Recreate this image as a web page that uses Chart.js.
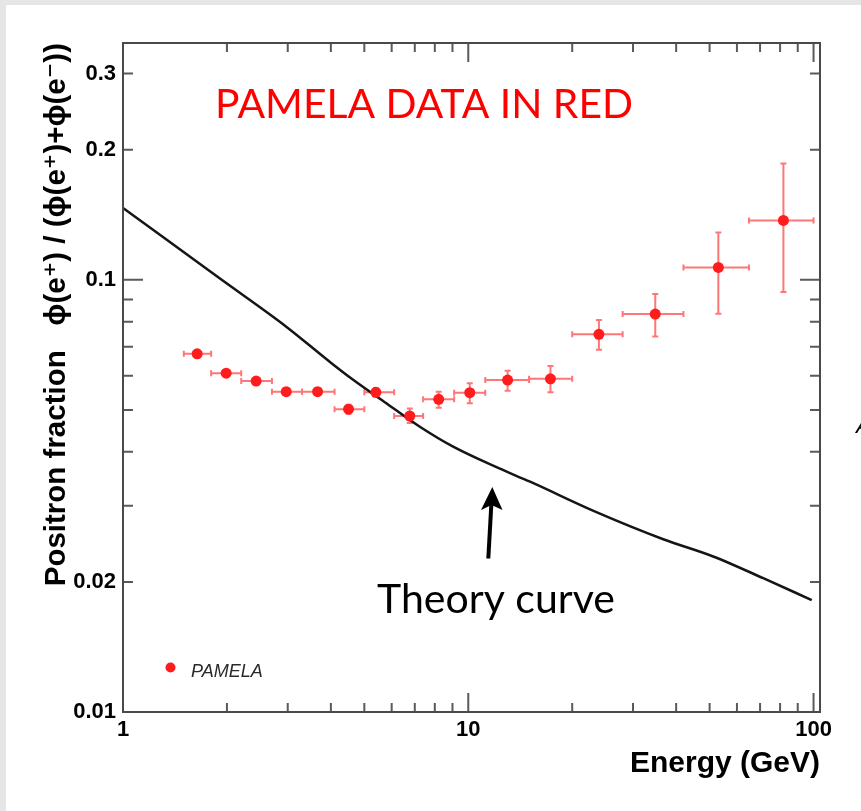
<!DOCTYPE html>
<html>
<head>
<meta charset="utf-8">
<script src="https://cdn.jsdelivr.net/npm/chart.js@4.4.1/dist/chart.umd.min.js"></script>
<style>
html,body{margin:0;padding:0;background:#fff;overflow:hidden;}
canvas{display:block;}
</style>
</head>
<body>
<canvas id="c" width="861" height="811"></canvas>
<script>
// ---------------- DATA ----------------
// PAMELA positron fraction
const energy      = [1.64, 1.99, 2.43, 2.97, 3.66, 4.50, 5.40, 6.77, 8.21, 10.1, 13.0, 17.3, 23.9, 34.8, 53.0, 81.8];
const energyLow   = [1.5, 1.8, 2.2, 2.7, 3.3, 4.1, 5.0, 6.1, 7.4, 9.1, 11.2, 15, 20, 28, 42, 65];
const energyHigh  = [1.8, 2.2, 2.7, 3.3, 4.1, 5.0, 6.1, 7.4, 9.1, 11.2, 15, 20, 28, 42, 65, 100];
const fraction    = [0.0674, 0.0608, 0.0583, 0.0551, 0.0551, 0.0502, 0.0549, 0.0484, 0.0529, 0.0548, 0.0586, 0.0590, 0.0748, 0.0833, 0.1068, 0.1372];
const fractionErrUp   = [0.0010, 0.0010, 0.0010, 0.0010, 0.0010, 0.0012, 0.0012, 0.0020, 0.0022, 0.0028, 0.0030, 0.0042, 0.0059, 0.0094, 0.0219, 0.0485];
const fractionErrDown = [0.0010, 0.0010, 0.0010, 0.0010, 0.0010, 0.0012, 0.0012, 0.0018, 0.0023, 0.0030, 0.0032, 0.0041, 0.0059, 0.0094, 0.0234, 0.0435];

// Theory curve
const theoryEnergy   = [1, 1.9, 2.97, 4.0, 4.64, 5.79, 7.24, 9.04, 12.3, 15.1, 23.5, 36.7, 51.2, 71.5, 98.8];
const theoryFraction = [0.1466, 0.1009, 0.0779, 0.0643, 0.0587, 0.0518, 0.0457, 0.0411, 0.0366, 0.0341, 0.0290, 0.0251, 0.0229, 0.0204, 0.01815];

// Axis ticks and labels
const xTickValues = [1,2,3,4,5,6,7,8,9,10,20,30,40,50,60,70,80,90,100];
const xTickLabelValues = [1, 10, 100];
const xTickLabels = ['1', '10', '100'];
const yTickValues = [0.01,0.02,0.03,0.04,0.05,0.06,0.07,0.08,0.09,0.1,0.2,0.3];
const yTickLabelValues = [0.01, 0.02, 0.1, 0.2, 0.3];
const yTickLabels = ['0.01', '0.02', '0.1', '0.2', '0.3'];
const xRange = [1, 104.4];
const yRange = [0.01, 0.353];

const xTitle = 'Energy (GeV)';
const yTitle = 'Positron fraction   \u03D5(e\u207A) / (\u03D5(e\u207A)+\u03D5(e\u207B))';
const legendLabel = 'PAMELA';
const headline = 'PAMELA DATA IN RED';
const curveNote = 'Theory curve';

// ---------------- STYLE ----------------
const SANS = "'Liberation Sans', Arial, 'DejaVu Sans', sans-serif";
const HUMANIST = "Lato, 'Open Sans', sans-serif";
const frameColor = '#4a4a4a';
const tickColor = '#5a5a5a';
const markerColor = '#ff1c1c';
const errColor = '#ff7676';

function isMajor(v){ const l = Math.log10(v); return Math.abs(l - Math.round(l)) < 1e-9; }
function labelFor(v, vals, labs){
  for (let i = 0; i < vals.length; i++) if (Math.abs(v - vals[i]) / vals[i] < 1e-6) return labs[i];
  return '';
}

const backgroundPlugin = {
  id: 'bg',
  beforeDraw(chart){
    const ctx = chart.ctx;
    ctx.save();
    ctx.fillStyle = '#e6e6e6';
    ctx.fillRect(0, 0, chart.width, chart.height);
    ctx.fillStyle = '#ffffff';
    ctx.fillRect(6, 5, chart.width - 6, chart.height - 5);
    // fragment of slide text at the right edge
    ctx.fillStyle = '#000';
    ctx.font = "italic 22px " + SANS;
    ctx.textBaseline = 'alphabetic';
    ctx.fillText('A', 856, 433);
    ctx.restore();
  }
};

const errorBarPlugin = {
  id: 'errbars',
  beforeDatasetsDraw(chart){
    const ctx = chart.ctx, xs = chart.scales.x, ys = chart.scales.y;
    ctx.save();
    ctx.strokeStyle = errColor;
    ctx.lineWidth = 2;
    const cap = 3;
    for (let i = 0; i < energy.length; i++){
      const px = xs.getPixelForValue(energy[i]);
      const py = ys.getPixelForValue(fraction[i]);
      const xl = xs.getPixelForValue(energyLow[i]);
      const xh = xs.getPixelForValue(energyHigh[i]);
      const yh = ys.getPixelForValue(fraction[i] + fractionErrUp[i]);
      const yl = ys.getPixelForValue(fraction[i] - fractionErrDown[i]);
      ctx.beginPath();
      ctx.moveTo(xl, py); ctx.lineTo(xh, py);
      ctx.moveTo(xl, py - cap); ctx.lineTo(xl, py + cap);
      ctx.moveTo(xh, py - cap); ctx.lineTo(xh, py + cap);
      ctx.moveTo(px, yh); ctx.lineTo(px, yl);
      ctx.moveTo(px - cap, yh); ctx.lineTo(px + cap, yh);
      ctx.moveTo(px - cap, yl); ctx.lineTo(px + cap, yl);
      ctx.stroke();
    }
    ctx.restore();
  }
};

function fitText(ctx, text, font, weight, x1, x2, baseline, color){
  let size = 40;
  ctx.font = weight + ' ' + size + 'px ' + font;
  const w = ctx.measureText(text).width;
  size = size * (x2 - x1) / w;
  ctx.font = weight + ' ' + size.toFixed(2) + 'px ' + font;
  ctx.fillStyle = color;
  ctx.textAlign = 'left';
  ctx.textBaseline = 'alphabetic';
  ctx.fillText(text, x1, baseline);
}

const framePlugin = {
  id: 'frame',
  afterDraw(chart){
    const ctx = chart.ctx, a = chart.chartArea, xs = chart.scales.x, ys = chart.scales.y;
    ctx.save();
    // ticks (inside frame, ROOT style)
    ctx.strokeStyle = tickColor;
    ctx.lineWidth = 2;
    ctx.beginPath();
    yTickValues.forEach(v => {
      if (v <= ys.min || v >= ys.max) return;
      const p = ys.getPixelForValue(v);
      const len = isMajor(v) ? 20 : 10;
      ctx.moveTo(a.left, p); ctx.lineTo(a.left + len, p);
      ctx.moveTo(a.right, p); ctx.lineTo(a.right - len, p);
    });
    xTickValues.forEach(v => {
      if (v <= xs.min || v >= xs.max) return;
      const p = xs.getPixelForValue(v);
      const len = isMajor(v) ? 19 : 9;
      ctx.moveTo(p, a.bottom); ctx.lineTo(p, a.bottom - len);
      ctx.moveTo(p, a.top); ctx.lineTo(p, a.top + len);
    });
    ctx.stroke();
    // frame
    ctx.strokeStyle = frameColor;
    ctx.lineWidth = 2;
    ctx.strokeRect(a.left, a.top, a.right - a.left, a.bottom - a.top);

    // legend
    ctx.fillStyle = markerColor;
    ctx.beginPath();
    ctx.arc(a.left + 47.5, a.bottom - 44.5, 5, 0, Math.PI * 2);
    ctx.fill();
    ctx.fillStyle = '#2a2a2a';
    ctx.font = 'italic 18px ' + SANS;
    ctx.textAlign = 'left';
    ctx.textBaseline = 'alphabetic';
    ctx.fillText(legendLabel, a.left + 68, a.bottom - 35);

    // annotations
    fitText(ctx, headline, HUMANIST, 'normal', 215, 633, 118, '#ff0000');
    fitText(ctx, curveNote, HUMANIST, 'normal', 377, 615, 613, '#000000');

    // arrow
    ctx.strokeStyle = '#000';
    ctx.fillStyle = '#000';
    ctx.lineWidth = 4;
    ctx.beginPath();
    ctx.moveTo(488.3, 558.5);
    ctx.lineTo(491.3, 505);
    ctx.stroke();
    ctx.beginPath();
    ctx.moveTo(492.3, 487);
    ctx.lineTo(502.5, 510);
    ctx.lineTo(491.5, 505);
    ctx.lineTo(481, 510);
    ctx.closePath();
    ctx.fill();
    ctx.restore();
  }
};

const tickFont = { family: SANS, weight: 'bold', size: 22 };
const titleFont = { family: SANS, weight: 'bold', size: 30 };
const yTitleFont = { family: SANS, weight: 'bold', size: 29.5 };

new Chart(document.getElementById('c'), {
  type: 'scatter',
  data: {
    datasets: [
      {
        type: 'line',
        label: 'Theory',
        data: theoryEnergy.map((e, i) => ({ x: e, y: theoryFraction[i] })),
        borderColor: '#151515',
        borderWidth: 2.5,
        pointRadius: 0,
        fill: false,
        cubicInterpolationMode: 'monotone',
        borderJoinStyle: 'round',
        order: 2
      },
      {
        type: 'scatter',
        label: legendLabel,
        data: energy.map((e, i) => ({ x: e, y: fraction[i] })),
        backgroundColor: markerColor,
        borderWidth: 0,
        pointRadius: 5.5,
        order: 1
      }
    ]
  },
  options: {
    responsive: false,
    animation: false,
    devicePixelRatio: 1,
    layout: { padding: { left: 0, right: 41, top: 43, bottom: 0 } },
    plugins: { legend: { display: false }, tooltip: { enabled: false } },
    scales: {
      x: {
        type: 'logarithmic',
        position: 'bottom',
        min: xRange[0], max: xRange[1],
        afterBuildTicks: s => { s.ticks = xTickValues.map(v => ({ value: v })); },
        afterFit: s => { s.height = 99; },
        ticks: {
          autoSkip: false, maxRotation: 0, minRotation: 0, padding: 5,
          color: '#000', font: tickFont,
          callback: v => labelFor(v, xTickLabelValues, xTickLabels)
        },
        grid: { drawOnChartArea: false, drawTicks: false },
        border: { display: false },
        title: { display: true, text: xTitle, align: 'end', color: '#000', font: titleFont, padding: { top: 0, bottom: 29 } }
      },
      y: {
        type: 'logarithmic',
        position: 'left',
        min: yRange[0], max: yRange[1],
        afterBuildTicks: s => { s.ticks = yTickValues.map(v => ({ value: v })); },
        afterFit: s => { s.width = 123; },
        ticks: {
          autoSkip: false, padding: 7,
          color: '#000', font: tickFont,
          callback: v => labelFor(v, yTickLabelValues, yTickLabels)
        },
        grid: { drawOnChartArea: false, drawTicks: false },
        border: { display: false },
        title: { display: true, text: yTitle, align: 'end', color: '#000', font: yTitleFont, padding: { top: 39, bottom: 0 } }
      }
    }
  },
  plugins: [backgroundPlugin, errorBarPlugin, framePlugin]
});
</script>
</body>
</html>
